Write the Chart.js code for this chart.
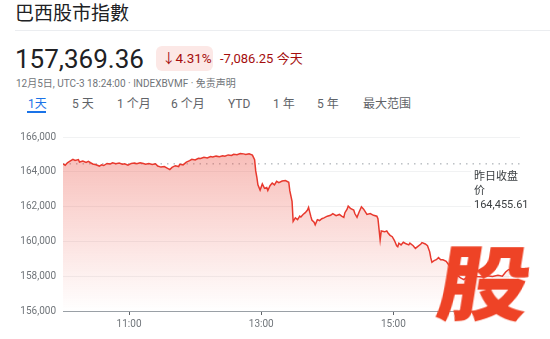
<!DOCTYPE html>
<html>
<head>
<meta charset="utf-8">
<script src="https://cdn.jsdelivr.net/npm/chart.js@4"></script>
<style>
  html, body { margin: 0; padding: 0; background: #fff; }
  body { width: 550px; height: 339px; position: relative; overflow: hidden;
         font-family: Roboto, "Noto Sans CJK SC", sans-serif; color: #202124; }
  .abs { position: absolute; white-space: nowrap; line-height: 1; }
  #title { left: 15px; top: 2px; font-size: 19px; font-family: "Noto Sans CJK SC", sans-serif; }
  #sep { left: 15px; top: 30px; width: 535px; height: 1px; background: #ebedf0; }
  #price { left: 15px; top: 46px; font-size: 26px; }
  #badge { left: 156px; top: 46px; width: 57px; height: 25px; border-radius: 6px; background: #fce8e6; }
  #pct { left: 162px; top: 52px; font-size: 13.5px; color: #a50e0e; }
  #chg { left: 220px; top: 52px; font-size: 13px; color: #a50e0e; }
  #sub { left: 16px; top: 79px; font-size: 10px; color: #70757a; }
  .tab { top: 98px; font-size: 12px; color: #5f6368; }
  .tab.on { color: #1a73e8; }
  #under { left: 27px; top: 111px; width: 19px; height: 2px; background: #1a73e8; }
  #wrap { position: absolute; left: 0; top: 120px; width: 550px; height: 219px; }
  #mark { left: 446px; top: 238px; font-size: 92px; font-weight: 900; color: #ee4326;
          font-family: "Noto Sans CJK SC", sans-serif; transform-origin: 0 0;
          transform: skewX(-9deg) scaleY(0.88); }
</style>
</head>
<body>
<div class="abs" id="title">巴西股市指數</div>
<div class="abs" id="sep"></div>
<div class="abs" id="price">157,369.36</div>
<div class="abs" id="badge"></div>
<div class="abs" id="pct">↓4.31%</div>
<div class="abs" id="chg">-7,086.25 今天</div>
<div class="abs" id="sub">12月5日, UTC-3 18:24:00 · INDEXBVMF · 免责声明</div>
<div class="abs tab on" style="left:28px">1天</div>
<div class="abs tab" style="left:72px">5 天</div>
<div class="abs tab" style="left:117px">1 个月</div>
<div class="abs tab" style="left:171px">6 个月</div>
<div class="abs tab" style="left:228px">YTD</div>
<div class="abs tab" style="left:273px">1 年</div>
<div class="abs tab" style="left:317px">5 年</div>
<div class="abs tab" style="left:363px">最大范围</div>
<div class="abs" id="under"></div>
<div id="wrap"><canvas id="chart"></canvas></div>
<div class="abs" id="mark">股</div>
<script>
// 시간축 (분 단위 문자열)
const times = [
  "10:00","10:02","10:04","10:06","10:09","10:11","10:14","10:15","10:18","10:21",
  "10:23","10:25","10:27","10:30","10:33","10:35","10:37","10:40","10:43","10:45",
  "10:48","10:51","10:54","10:56","10:59","11:02","11:05","11:07","11:10","11:13",
  "11:15","11:18","11:21","11:24","11:26","11:29","11:32","11:35","11:37","11:39",
  "11:42","11:45","11:46","11:49","11:52","11:55","11:57","12:00","12:03","12:05",
  "12:08","12:11","12:14","12:16","12:19","12:22","12:25","12:27","12:30","12:33",
  "12:35","12:38","12:41","12:44","12:46","12:49","12:52","12:54","12:55","12:56",
  "12:57","12:59","13:01","13:03","13:05","13:06","13:08","13:10","13:12","13:14",
  "13:16","13:19","13:22","13:25","13:26","13:28","13:29","13:31","13:33","13:35",
  "13:36","13:38","13:40","13:42","13:43","13:44","13:45","13:46","13:48","13:49",
  "13:51","13:53","13:55","13:57","14:00","14:03","14:05","14:08","14:11","14:13",
  "14:15","14:16","14:18","14:19","14:21","14:24","14:25","14:27","14:29","14:31",
  "14:33","14:35","14:36","14:39","14:42","14:45","14:46","14:47","14:48","14:49",
  "14:52","14:54","14:55","14:57","14:59","15:01","15:03","15:04","15:05","15:07",
  "15:09","15:11","15:14","15:15","15:18","15:20","15:22","15:25","15:26","15:29",
  "15:31","15:33","15:34","15:35","15:37","15:39","15:41","15:43","15:45","15:48",
  "15:52","15:56","16:01","16:04","16:07","16:12","16:16","16:21","16:25","16:30",
  "16:35","16:39","16:42","16:45"
];
const values = [
  164450,164380,164520,164600,164720,164650,164700,164560,164620,164540,
  164600,164520,164450,164400,164330,164400,164360,164480,164450,164520,
  164470,164500,164440,164460,164380,164480,164500,164460,164520,164480,
  164440,164480,164420,164460,164330,164270,164300,164200,164130,164250,
  164350,164300,164430,164400,164560,164640,164720,164680,164780,164760,
  164830,164800,164880,164850,164900,164870,164920,164890,164970,164940,
  165010,164980,165050,165030,165000,165040,164960,164700,164050,163700,
  163250,162950,163300,163050,163100,162920,163200,163350,163250,163450,
  163380,163470,163500,163400,162900,162300,161150,161350,161250,161450,
  161400,161550,161650,161800,161950,161700,161450,161230,161100,160950,
  161250,161200,161300,161350,161450,161500,161600,161480,161550,161450,
  161380,161650,161850,162030,161900,161800,161600,161380,161700,161990,
  161850,161650,161550,161600,161500,161450,161300,160700,160080,160600,
  160550,160600,160500,160350,160270,160050,159750,159700,159900,159800,
  159950,159880,159800,159900,159750,159600,159700,159850,159930,159850,
  159750,159400,159050,158800,158900,158950,159070,158950,158940,158850,
  158500,158150,157900,157800,157950,158050,157980,157950,158020,157980,
  158050,158000,158240,158400
];
const prevClose = 164455.61;
const prevCloseLabel = ["昨日收盘", "价"];
const tickTimes = ["11:00", "13:00", "15:00"];
const yTicks = [156000, 158000, 160000, 162000, 164000, 166000];

const toMin = (t) => { const [h, m] = t.split(":").map(Number); return h * 60 + m; };
const fmtMin = (v) => `${Math.floor(v / 60)}:${String(v % 60).padStart(2, "0")}`;
const xMin = 600, xMax = 1015;

// 전일 종가 라벨
const prevClosePlugin = {
  id: "prevClose",
  afterDatasetsDraw(chart) {
    const { ctx } = chart;
    const y = chart.scales.y.getPixelForValue(prevClose);
    ctx.save();
    ctx.fillStyle = "#fff";
    ctx.fillRect(471, y + 3, 79, 46);
    ctx.fillStyle = "#3c4043";
    ctx.font = "11px Roboto, 'Noto Sans CJK SC'";
    ctx.textBaseline = "middle";
    const lines = [...prevCloseLabel, prevClose.toLocaleString("en-US", { minimumFractionDigits: 2 })];
    lines.forEach((s, i) => ctx.fillText(s, 474, y + 13 + i * 14));
    ctx.restore();
  },
};

new Chart(document.getElementById("chart"), {
  type: "line",
  data: {
    datasets: [
      {
        data: times.map((t, i) => ({ x: toMin(t), y: values[i] })),
        borderColor: "#e8392e",
        borderWidth: 1.5,
        pointRadius: 0,
        tension: 0,
        fill: "start",
        backgroundColor(c) {
          const a = c.chart.chartArea;
          if (!a) return "rgba(234,67,53,0.3)";
          const g = c.chart.ctx.createLinearGradient(0, a.top, 0, a.bottom);
          g.addColorStop(0, "rgba(234,67,53,0.38)");
          g.addColorStop(1, "rgba(234,67,53,0)");
          return g;
        },
      },
      {
        data: [{ x: xMin, y: prevClose }, { x: xMax, y: prevClose }],
        borderColor: "#9aa0a6",
        borderWidth: 1,
        borderDash: [1.5, 5],
        pointRadius: 0,
        fill: false,
      },
    ],
  },
  options: {
    responsive: true,
    maintainAspectRatio: false,
    animation: false,
    layout: { padding: { top: 17, right: 30, left: 0, bottom: 0 } },
    plugins: { legend: { display: false }, tooltip: { enabled: false } },
    scales: {
      x: {
        type: "linear",
        min: xMin,
        max: xMax,
        afterBuildTicks(s) { s.ticks = tickTimes.map((t) => ({ value: toMin(t) })); },
        afterFit(s) { s.height = 28; },
        grid: { drawOnChartArea: false, tickLength: 4, color: "#5f6368" },
        border: { color: "#9aa0a6" },
        ticks: { callback: (v) => fmtMin(v), color: "#70757a", font: { family: "Roboto", size: 10 }, padding: 3, maxRotation: 0 },
      },
      y: {
        min: 156000,
        max: 166000,
        afterBuildTicks(s) { s.ticks = yTicks.map((v) => ({ value: v })); },
        afterFit(s) { s.width = 63; },
        grid: { color: "#f1f2f3", drawTicks: false },
        border: { display: false },
        ticks: { callback: (v) => v.toLocaleString("en-US"), color: "#70757a", font: { family: "Roboto", size: 10 }, padding: 7 },
      },
    },
  },
  plugins: [prevClosePlugin],
});
</script>
</body>
</html>
